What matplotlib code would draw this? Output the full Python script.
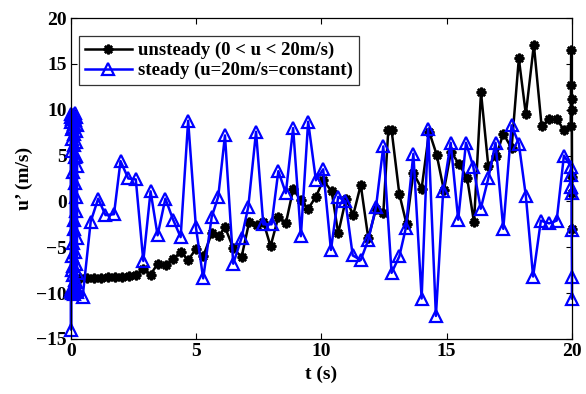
import matplotlib
matplotlib.use("Agg")
import matplotlib.pyplot as plt

# unsteady case (0 < u < 20 m/s)
t_unsteady = [0.10, 0.20, 0.36, 0.64, 0.92, 1.20, 1.48, 1.76, 2.04, 2.32, 2.60,
              2.89, 3.18, 3.46, 3.79, 4.08, 4.38, 4.68, 4.99, 5.28, 5.62, 5.92,
              6.15, 6.48, 6.81, 7.12, 7.41, 7.68, 7.97, 8.28, 8.58, 8.87, 9.18,
              9.47, 9.78, 10.07, 10.41, 10.67, 10.98, 11.27, 11.57, 11.87, 12.18,
              12.47, 12.67, 12.80, 13.11, 13.40, 13.67, 14.00, 14.30, 14.60,
              14.89, 15.17, 15.49, 15.82, 16.09, 16.37, 16.66, 16.97, 17.26,
              17.59, 17.88, 18.16, 18.48, 18.79, 19.09, 19.39, 19.68, 19.95,
              19.97, 19.98, 19.99, 19.99, 20.00, 20.00, 20.00]
u_unsteady = [-9.6, -8.6, -8.4, -8.4, -8.4, -8.4, -8.3, -8.3, -8.2, -8.1, -8.0,
              -7.4, -8.0, -6.8, -6.9, -6.3, -5.5, -6.4, -5.2, -6.0, -3.5, -3.8,
              -2.8, -5.1, -6.1, -2.2, -2.6, -2.2, -4.9, -1.7, -2.4, 1.3, 0.15,
              -0.8, 0.5, 2.3, 1.1, -3.5, 0.3, -1.5, 1.8, -4.0, -0.8,
              -1.3, 7.8, 7.8, 0.8, -2.5, 3.1, 1.4, 7.6, 5.1,
              1.2, 5.4, 4.1, 2.5, -2.3, 11.9, 3.9, 4.9, 7.4,
              5.8, 15.6, 9.5, 17.1, 8.2, 9.0, 9.0, 7.8, 8.2,
              16.5, 12.7, 11.2, 10.0, 2.7, 0.9, -3.0]

# steady case (u = 20 m/s): dense burst near t = 0, then regular samples
t_steady = [0.000, 0.005, 0.010, 0.015, 0.020, 0.025, 0.030, 0.035, 0.040,
            0.045, 0.050, 0.055, 0.060, 0.065, 0.070, 0.075, 0.080, 0.085,
            0.090, 0.095, 0.100, 0.105, 0.110, 0.115, 0.120, 0.125, 0.130,
            0.135, 0.140, 0.145, 0.150, 0.155, 0.160, 0.165, 0.170, 0.175,
            0.180, 0.185, 0.190, 0.195, 0.200, 0.205, 0.210, 0.215, 0.220,
            0.225, 0.230, 0.235, 0.240, 0.245, 0.250,
            0.47, 0.79, 1.09, 1.38, 1.72, 1.98, 2.29, 2.59, 2.89, 3.18, 3.46,
            3.77, 4.08, 4.38, 4.68, 4.99, 5.28, 5.62, 5.88, 6.15, 6.48, 6.81,
            7.08, 7.39, 7.68, 8.01, 8.28, 8.58, 8.87, 9.18, 9.47, 9.78, 10.07,
            10.38, 10.67, 10.96, 11.25, 11.57, 11.87, 12.18, 12.47, 12.80,
            13.11, 13.37, 13.67, 14.00, 14.26, 14.57, 14.86, 15.16, 15.46,
            15.77, 16.06, 16.36, 16.66, 16.95, 17.26, 17.59, 17.88, 18.16,
            18.45, 18.76, 19.09, 19.39, 19.68, 19.96, 19.97, 19.98, 19.99,
            19.99, 20.00, 20.00]
u_steady = [9.5, -14.0, 8.7, -9.8, 9.2, -7.5, 6.8, -10.0, 9.0, -6.0, 7.9,
            -9.5, 5.5, -8.0, 9.3, -4.5, 8.1, -9.9, 3.2, -7.0, 9.4, -2.0,
            8.5, -9.2, 6.1, -10.1, 9.1, -3.0, 7.4, -8.6, 4.8, -9.7, 8.9,
            -5.5, 2.0, -9.4, 9.6, 0.5, 6.5, -8.8, 7.7, -1.0, 9.2, -6.8,
            5.0, -9.9, 8.3, -4.0, 3.9, -7.8, -9.6,
            -10.4, -2.2, 0.3, -1.5, -1.4, 4.4, 2.5, 2.4, -6.5, 1.1, -3.7,
            0.3, -2.0, -3.9, 8.8, -2.8, -8.4, -1.7, 0.5, 7.2, -6.8, -4.0,
            -0.6, 7.6, -2.5, -2.5, 3.3, 0.9, 8.0, -3.8, 8.7, 2.3, 3.5,
            -5.3, 0.5, 0.0, -5.9, -6.4, -4.2, -0.6, 6.0, -7.8,
            -6.0, -2.9, 5.2, -10.6, 7.9, -12.5, 1.1, 6.4, -2.0,
            6.4, 3.8, -0.8, 2.5, 6.4, -3.0, 8.3, 6.3, 0.6,
            -8.2, -2.1, -2.4, -2.1, 5.0, 3.8, 2.9, 1.6, 0.9,
            -3.1, -8.2, -10.6]

plt.rcParams['font.family'] = ['Liberation Serif', 'DejaVu Serif']
plt.rcParams['font.weight'] = 'bold'
plt.rcParams['font.size'] = 14

fig = plt.figure(figsize=(5.86, 3.94), dpi=100)
ax = fig.add_axes([0.121, 0.140, 0.855, 0.814])

ax.plot(t_unsteady, u_unsteady, color='black', lw=1.8, marker=(8, 2, 0),
        ms=7, mew=1.8, label='unsteady (0 < u < 20m/s)', clip_on=False)
ax.plot(t_steady, u_steady, color='#0000ff', lw=1.8, marker='^', ms=9,
        mfc='none', mec='#0000ff', mew=1.6,
        label='steady (u=20m/s=constant)', clip_on=False)

ax.set_xlim(0, 20)
ax.set_ylim(-15, 20)
ax.set_xticks([0, 5, 10, 15, 20])
ax.set_yticks([-15, -10, -5, 0, 5, 10, 15, 20])
ax.tick_params(direction='in', length=4, width=0.8, top=True, right=True,
               labelsize=14, pad=3)
for s in ax.spines.values():
    s.set_linewidth(0.9)

ax.set_xlabel('t (s)', fontsize=14, fontweight='bold', labelpad=4)
ax.set_ylabel('u\u2019 (m/s)', fontsize=14, fontweight='bold', labelpad=2)

leg = ax.legend(loc='upper left', bbox_to_anchor=(0.017, 0.943), fontsize=13.5,
                frameon=True, fancybox=False, borderpad=0.3, labelspacing=0.15,
                handlelength=2.5, handletextpad=0.35, borderaxespad=0)
leg.get_frame().set_edgecolor('black')
leg.get_frame().set_linewidth(0.9)
for txt in leg.get_texts():
    txt.set_fontweight('bold')

fig.savefig('out.png', dpi=100)
